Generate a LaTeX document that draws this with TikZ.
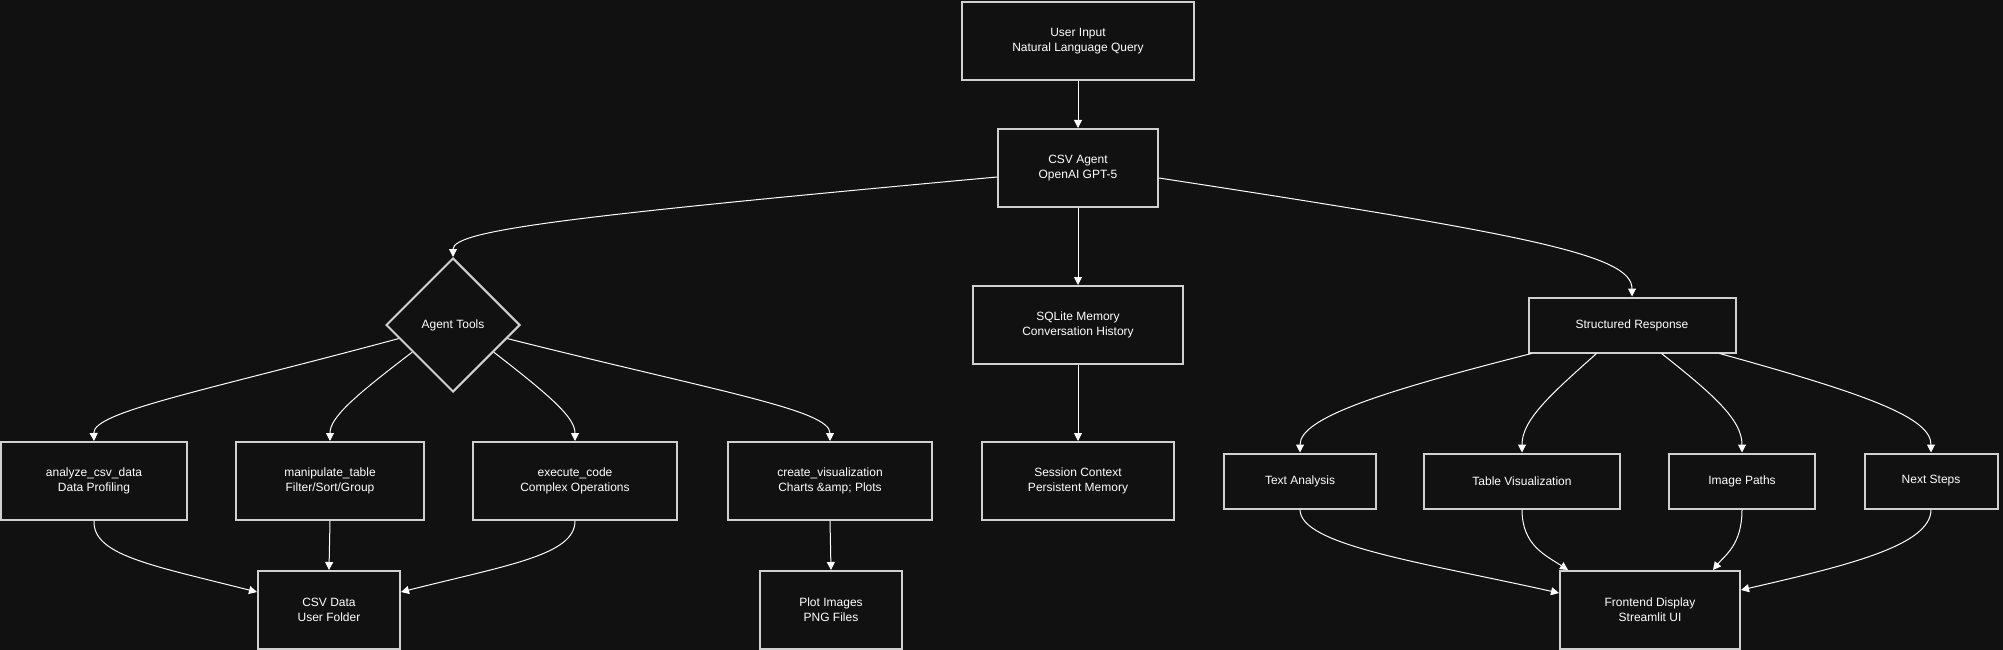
\documentclass[tikz,border=0pt]{standalone}
\usepackage{fontspec}
\setmainfont{Liberation Sans}
\usetikzlibrary{shapes.geometric,arrows.meta,calc}
\definecolor{bg}{HTML}{111111}
\definecolor{edgecol}{HTML}{D0D0D0}
\begin{document}
\begin{tikzpicture}[x=1pt,y=-1pt,
  box/.style={draw=edgecol,line width=2pt,fill=bg,text=white,align=center,inner sep=0pt,font=\fontsize{12}{15}\selectfont},
  dia/.style={diamond,draw=edgecol,line width=2pt,fill=bg,text=white,align=center,aspect=1,minimum width=134pt,minimum height=134pt,inner sep=0pt,font=\fontsize{12}{15}\selectfont},
  conn/.style={draw=white,line width=1pt,-{Triangle[length=8pt,width=8pt]}}]
\fill[bg] (0,0) rectangle (2003,650);
\useasboundingbox (0,0) rectangle (2003,650);

\node[box,minimum width=232pt,minimum height=78pt] (ui) at (1078,41) {User Input\\Natural Language Query};
\node[box,minimum width=160pt,minimum height=78pt] (agent) at (1078,168) {CSV Agent\\OpenAI GPT-5};
\node[dia] (tools) at (453,325) {Agent Tools};
\node[box,minimum width=210pt,minimum height=78pt] (mem) at (1078,325) {SQLite Memory\\Conversation History};
\node[box,minimum width=207pt,minimum height=55pt] (sr) at (1632,325) {Structured Response};

\node[box,minimum width=186pt,minimum height=78pt] (an) at (94,481) {analyze\_csv\_data\\Data Profiling};
\node[box,minimum width=188pt,minimum height=78pt] (mt) at (330,481) {manipulate\_table\\Filter/Sort/Group};
\node[box,minimum width=204pt,minimum height=78pt] (ec) at (575,481) {execute\_code\\Complex Operations};
\node[box,minimum width=204pt,minimum height=78pt] (cv) at (830,481) {create\_visualization\\Charts \&amp; Plots};
\node[box,minimum width=192pt,minimum height=78pt] (sc) at (1078,481) {Session Context\\Persistent Memory};

\node[box,minimum width=152pt,minimum height=55pt] (ta) at (1300,481) {Text Analysis};
\node[box,minimum width=196pt,minimum height=55pt] (tv) at (1522,481) {Table Visualization};
\node[box,minimum width=146pt,minimum height=55pt] (ip) at (1742,481) {Image Paths};
\node[box,minimum width=133pt,minimum height=55pt] (ns) at (1931,481) {Next Steps};

\node[box,minimum width=142pt,minimum height=78pt] (csv) at (329,610) {CSV Data\\User Folder};
\node[box,minimum width=142pt,minimum height=78pt] (plot) at (831,610) {Plot Images\\PNG Files};
\node[box,minimum width=180pt,minimum height=78pt] (fe) at (1650,610) {Frontend Display\\Streamlit UI};

% straight edges
\draw[conn] (ui.south) -- (agent.north);
\draw[conn] (agent.south) -- (mem.north);
\draw[conn] (mem.south) -- (sc.north);
\draw[conn] (mt.south) -- (csv.north);
\draw[conn] (cv.south) -- (plot.north);

% agent to tools / response
\draw[conn] ($(agent.west)+(0,9)$) .. controls (573,216) and (453,230) .. (tools.north);
\draw[conn] ($(agent.east)+(0,10)$) .. controls (1530,235) and (1632,255) .. (sr.north);

% tools to children
\draw[conn] ($(tools.west)!0.2!(tools.south)$) .. controls (200,392) and (93,412) .. (an.north);
\draw[conn] ($(tools.west)!0.4!(tools.south)$) .. controls (352,398) and (330,418) .. (mt.north);
\draw[conn] ($(tools.east)!0.4!(tools.south)$) .. controls (553,398) and (575,418) .. (ec.north);
\draw[conn] ($(tools.east)!0.2!(tools.south)$) .. controls (720,392) and (830,410) .. (cv.north);

% tools children to csv
\draw[conn] (an.south) .. controls (93,555) and (150,565) .. ($(csv.west)+(0,-18)$);
\draw[conn] (ec.south) .. controls (575,555) and (508,565) .. ($(csv.east)+(0,-18)$);

% structured response to children
\draw[conn] ($(sr.south west)+(4,0)$) .. controls (1380,392) and (1300,418) .. (ta.north);
\draw[conn] ($(sr.south west)+(69,0)$) .. controls (1550,395) and (1522,420) .. (tv.north);
\draw[conn] ($(sr.south west)+(134,0)$) .. controls (1714,395) and (1742,420) .. (ip.north);
\draw[conn] ($(sr.south west)+(192,0)$) .. controls (1870,395) and (1931,418) .. (ns.north);

% children to frontend
\draw[conn] (ta.south) .. controls (1300,545) and (1420,562) .. ($(fe.west)+(0,-17)$);
\draw[conn] (tv.south) .. controls (1522,545) and (1545,555) .. ($(fe.north west)+(9,0)$);
\draw[conn] (ip.south) .. controls (1742,545) and (1725,555) .. ($(fe.north east)+(-28,0)$);
\draw[conn] (ns.south) .. controls (1931,545) and (1850,565) .. ($(fe.east)+(0,-20)$);
\end{tikzpicture}
\end{document}
